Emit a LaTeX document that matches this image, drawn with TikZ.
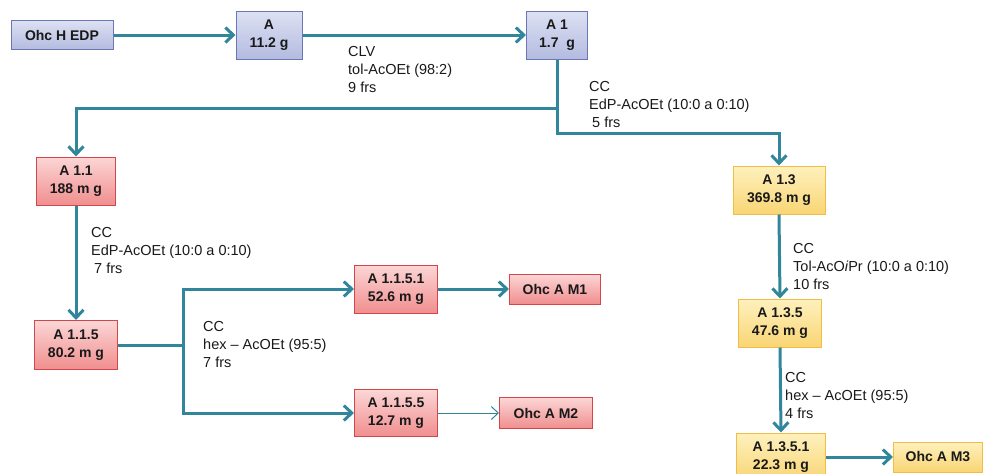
\documentclass[tikz,border=0pt]{standalone}
\usepackage{fontspec}
\setmainfont{Liberation Sans}
\usetikzlibrary{arrows.meta}
\definecolor{teal1}{HTML}{31869B}
\definecolor{bluebd}{HTML}{6A76B5}
\definecolor{bluetop}{HTML}{DDE1F3}
\definecolor{bluebot}{HTML}{B3BBE0}
\definecolor{redbd}{HTML}{D2484A}
\definecolor{redtop}{HTML}{FCD6D6}
\definecolor{redbot}{HTML}{F08E8E}
\definecolor{yelbd}{HTML}{F3BC45}
\definecolor{yeltop}{HTML}{FEF1BE}
\definecolor{yelbot}{HTML}{F9D574}
\tikzset{
  box/.style={draw, line width=1pt, inner sep=0pt, align=center,
    font=\bfseries\fontsize{14}{18}\selectfont, text=black!90},
  bluebox/.style={box, draw=bluebd, top color=bluetop, bottom color=bluebot},
  redbox/.style={box, draw=redbd, top color=redtop, bottom color=redbot},
  yelbox/.style={box, draw=yelbd, top color=yeltop, bottom color=yelbot},
  lbl/.style={anchor=west, inner sep=0pt, align=left,
    font=\fontsize{14.5}{18}\selectfont, text=black!90},
  conn/.style={draw=teal1, line width=3pt},
  arr/.style={conn, -{Straight Barb[length=8pt,width=15pt,line width=3pt]}},
  thinarr/.style={draw=teal1, line width=1pt, -{Straight Barb[length=7pt,width=13pt,line width=1pt]}}
}
\begin{document}
\begin{tikzpicture}[x=1pt,y=-1pt]
\useasboundingbox (0,0) rectangle (983,474);
% nodes
\node[bluebox, minimum width=102pt, minimum height=29pt] (ohc) at (62,35) {Ohc H EDP};
\node[bluebox, minimum width=66pt, minimum height=48pt] (a) at (269,35) {A\\11.2 g};
\node[bluebox, minimum width=61pt, minimum height=48pt] (a1) at (557,35) {A 1\\1.7\ \ g};
\node[redbox, minimum width=79pt, minimum height=48pt] (a11) at (76,181) {A 1.1\\188 m g};
\node[redbox, minimum width=83pt, minimum height=49pt] (a115) at (76,345) {A 1.1.5\\80.2 m g};
\node[redbox, minimum width=83pt, minimum height=48pt] (a1151) at (396,289) {A 1.1.5.1\\52.6 m g};
\node[redbox, minimum width=91pt, minimum height=30pt] (m1) at (555,289) {Ohc A M1};
\node[redbox, minimum width=83pt, minimum height=47pt] (a1155) at (396,413) {A 1.1.5.5\\12.7 m g};
\node[redbox, minimum width=93pt, minimum height=31pt] (m2) at (546,413) {Ohc A M2};
\node[yelbox, minimum width=92pt, minimum height=48pt] (a13) at (779,190) {A 1.3\\369.8 m g};
\node[yelbox, minimum width=83pt, minimum height=48pt] (a135) at (780,323) {A 1.3.5\\47.6 m g};
\node[yelbox, minimum width=89pt, minimum height=48pt] (a1351) at (781,457) {A 1.3.5.1\\22.3 m g};
\node[yelbox, minimum width=89pt, minimum height=30pt] (m3) at (938,457) {Ohc A M3};
% labels
\node[lbl] (l1) at (348,70) {CLV\\tol-AcOEt (98:2)\\9 frs};
\node[lbl] (l2) at (589,105) {CC\\EdP-AcOEt (10:0 a 0:10)\\\hspace{3pt}5 frs};
\node[lbl] (l3) at (91,251) {CC\\EdP-AcOEt (10:0 a 0:10)\\\hspace{3pt}7 frs};
\node[lbl] (l4) at (203,345) {CC\\hex -- AcOEt (95:5)\\7 frs};
\node[lbl] (l5) at (793,267) {CC\\Tol-AcO\textit{i}Pr (10:0 a 0:10)\\10 frs};
\node[lbl] (l6) at (785,396) {CC\\hex -- AcOEt (95:5)\\4 frs};
% junctions
\coordinate (j1) at (557,108);
\coordinate (j2) at (557,133);
\coordinate (j3) at (183,345);
% connectors
\draw[arr] (ohc.east) -- (a.west);
\draw[arr] (a.east) -- (a1.west);
\draw[conn] (a1.south) -- (j1);
\draw[arr] (j1) -| (a11.north);
\draw[arr] (j1) -- (j2) -| (a13.north);
\draw[arr] (a11.south) -- (a115.north);
\draw[conn] (a115.east) -- (j3);
\draw[arr] (j3) |- (a1151.west);
\draw[arr] (j3) |- (a1155.west);
\draw[arr] (a1151.east) -- (m1.west);
\draw[thinarr] (a1155.east) -- (m2.west);
\draw[arr] (a13.south) -- (a135.north);
\draw[arr] (a135.south) -- (a1351.north);
\draw[arr] (a1351.east) -- (m3.west);
\end{tikzpicture}
\end{document}
